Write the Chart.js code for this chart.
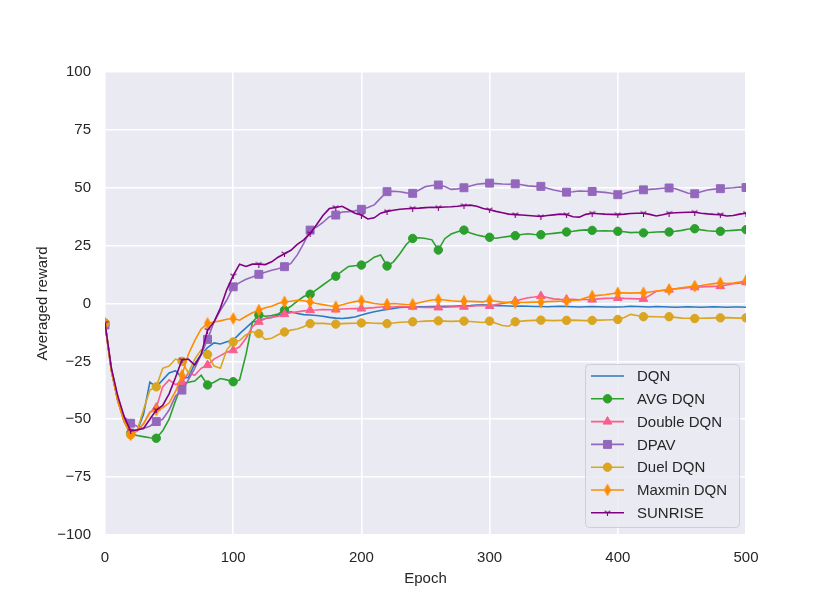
<!DOCTYPE html>
<html>
<head>
<meta charset="utf-8">
<script src="https://cdn.jsdelivr.net/npm/chart.js@4.4.1/dist/chart.umd.min.js"></script>
<style>
  html, body { margin: 0; padding: 0; background: #ffffff; }
  #wrap { width: 830px; height: 602px; }
</style>
</head>
<body>
<div id="wrap"><canvas id="grafico" width="830" height="602"></canvas></div>
<script>
  // epocas cada 5 (0..500)
  const epochs = Array.from({ length: 101 }, (_, i) => i * 5);
  const yTicks = [-100, -75, -50, -25, 0, 25, 50, 75, 100];
  const xTicks = [0, 100, 200, 300, 400, 500];

  const dqn = [
    -8.5, -29, -42, -50, -55, -55, -48, -34, -36, -33,
    -30, -29, -32, -32, -26, -22, -19, -17, -17.5, -16.5,
    -15.9, -13, -10.5, -8, -7.5, -6.5, -6, -5, -4.3, -3.6,
    -4.3, -4.8, -5, -5.2, -5.5, -6, -6.3, -6.5, -6.2, -5.8,
    -5, -4.2, -3.6, -3, -2.6, -2.1, -1.7, -1.6, -1.5, -1.4,
    -1.4, -1.3, -1.3, -1.2, -1.2, -1.1, -1, -0.9, -0.7, -0.6,
    -0.8, -0.9, -1, -1.1, -1.2, -1.1, -1.2, -1.3, -1.3, -1.4,
    -1.3, -1.2, -1.3, -1.4, -1.5, -1.4, -1.3, -1.4, -1.5, -1.5,
    -1.5, -1.4, -1.2, -1.3, -1.4, -1.5, -1.3, -1.4, -1.5, -1.6,
    -1.5, -1.4, -1.5, -1.6, -1.5, -1.4, -1.5, -1.6, -1.5, -1.5, -1.6
  ];
  const avgDqn = [
    -8.5, -29, -42, -51, -56, -57, -57.5, -58, -58.2, -55,
    -50, -42, -35, -34, -33.5, -31, -35.2, -34, -32.4, -33,
    -33.8, -33, -22, -8, -5, -5.5, -5.2, -4.5, -2.9, -1.2,
    1, 3, 4, 6, 8, 10, 11.8, 14, 16, 16.3,
    16.6, 18, 20, 21, 16.2, 18, 21.5, 25.5, 28.1, 28.4,
    28.1, 27.5, 23.1, 28, 30, 31, 31.7, 30.5, 29.6, 29,
    28.6, 28.2, 28.6, 29, 29.3, 29.8, 30.1, 29.8, 29.7, 30,
    30.3, 30.6, 30.9, 31.2, 31.6, 31.8, 31.6, 31.3, 31.4, 31.3,
    31.2, 31, 30.6, 30.8, 30.5, 30.7, 30.9, 31, 30.9, 31.2,
    31.6, 32.2, 32.3, 31.8, 31.4, 31.2, 31.2, 31.4, 31.6, 31.8, 31.9
  ];
  const doubleDqn = [
    -8.5, -29, -42, -51, -56, -55, -52, -47, -45, -36,
    -33, -35, -34, -30, -31, -28, -26.6, -24, -22.5, -21,
    -20.2, -18.7, -15, -10, -7.9, -6.5, -6, -5.5, -4.6, -4,
    -3.6, -3.2, -2.9, -2.8, -2.6, -2.7, -2.6, -2.4, -2.3, -2.2,
    -2.2, -2, -1.8, -1.5, -1.4, -1.5, -1.3, -1.4, -1.4, -1.6,
    -1.7, -1.6, -1.7, -1.6, -1.5, -1.4, -1.4, -1.2, -1, -0.8,
    -1.1, -0.5, 0, 0.5, 1, 1.8, 2.5, 2.8, 3.2, 2.6,
    2, 1.8, 1.7, 1.8, 1.6, 1.7, 1.7, 2, 2.2, 2.3,
    2.4, 2.2, 2.1, 2, 2, 3.5, 5.3, 5.6, 6, 6.3,
    6.6, 6.8, 7, 7.2, 7.3, 7.4, 7.5, 8, 8.5, 8.8, 9.2
  ];
  const dpav = [
    -9.3, -28, -41, -49, -51.7, -53, -54, -53, -51, -50,
    -46, -40, -37.4, -33, -28, -22, -15.5, -8, -3, 1.5,
    7.2, 9, 10.5, 11.5, 12.6, 13.5, 14.4, 15, 15.9, 17.3,
    21, 26, 31.7, 33, 35, 37.5, 38.2, 39.5, 39.7, 40,
    40.7, 41.5, 42.6, 45.5, 48.3, 48.5, 48.3, 47.8, 47.6, 49,
    50.5, 51, 51.2, 50.5, 49.3, 49.5, 50, 50.8, 51.5, 51.8,
    52, 51.8, 51.6, 51.5, 51.7, 51.3, 50.8, 50.6, 50.6, 49.8,
    49, 48.5, 48.1, 48.3, 48.6, 48.5, 48.4, 48.2, 48, 47.6,
    47, 47.5, 48.3, 48.8, 49.1, 49.3, 49.5, 49.8, 49.9, 49.6,
    48.6, 47.6, 47.4, 48.3, 49, 49.4, 49.6, 49.8, 50, 50.3, 50.1
  ];
  const duelDqn = [
    -8.5, -29, -42, -51, -56.7, -55, -46, -37.4, -36, -28,
    -27, -24, -25, -30, -24, -20, -22, -27, -28, -20,
    -16.6, -16, -13.5, -12.2, -13, -15.5, -15, -13.5, -12.3, -11.5,
    -11, -10, -8.7, -8.5, -8.6, -8.8, -8.9, -8.7, -8.6, -8.5,
    -8.4, -8.3, -8.5, -8.6, -8.7, -8.4, -8.1, -8, -7.9, -7.8,
    -7.6, -7.5, -7.5, -7.6, -7.7, -7.6, -7.6, -7.8, -8, -8.2,
    -7.6, -8.5, -9.5, -9.8, -7.9, -7.6, -7.4, -7.3, -7.2, -7.3,
    -7.4, -7.3, -7.3, -7.2, -7.3, -7.4, -7.3, -7.2, -7.1, -7,
    -6.9, -6, -4.7, -5.2, -5.7, -5.6, -5.7, -5.8, -5.7, -6,
    -6.3, -6.4, -6.5, -6.4, -6.3, -6.2, -6.2, -6.1, -6.2, -6.3, -6.2
  ];
  const maxminDqn = [
    -8.5, -29, -42, -51, -56.7, -55, -52, -47, -46, -45,
    -43, -38, -31, -22, -16, -11, -8.6, -8, -7.5, -6.8,
    -6.5, -7.2, -5.5, -4, -2.9, -1.8, -1.2, 0, 0.7, 1,
    1.4, 1.2, 0.7, 0, -0.5, -1, -1.4, -0.5, 0.2, 0.8,
    1.2, 0.6, 0, -0.3, -0.3, 0, -0.2, -0.4, -0.3, 0.3,
    1, 1.5, 1.7, 1.5, 1.2, 1, 1, 0.9, 0.8, 0.7,
    1.4, 1, 0.6, 0.4, 0.3, 0.4, 0.5, 0.6, 0.6, 0.8,
    0.9, 1, 1, 1.3, 1.5, 2.5, 3.2, 3.5, 3.8, 4.2,
    4.6, 4.6, 4.5, 4.6, 4.6, 5, 5.4, 5.7, 6, 6.4,
    6.8, 7.2, 7.5, 7.8, 8.2, 8.6, 8.9, 8.6, 8.8, 9.3, 9.9
  ];
  const sunrise = [
    -8.5, -28, -40, -49, -55, -54.6, -54, -50, -46, -44,
    -39, -32, -24.4, -24, -26.6, -22, -11.5, -8, -2, 6,
    12, 17, 16, 17, 17, 16.8, 18, 20, 21.5, 23,
    25.5, 27.5, 30.3, 34, 38, 41, 41.5, 42, 40.5, 39,
    38.2, 36.5, 37, 39, 39.8, 40.3, 40.7, 40.9, 41.1, 41.2,
    41.4, 41.6, 41.5, 41.7, 41.8, 42, 42.3, 42.5, 42, 41,
    40.5, 39.8, 39.2, 38.6, 38.4, 38.2, 38, 37.8, 37.6, 38,
    38.3, 38.6, 38.4, 37.5, 37.3, 38.5, 39, 38.8, 38.6, 38.5,
    38.4, 38.6, 38.9, 39, 39, 38.5, 37.8, 38.3, 39, 39.2,
    39.3, 39.4, 39.4, 39, 38.7, 38.5, 38.4, 37.8, 38, 38.6, 39
  ];

  const nombres = ['DQN', 'AVG DQN', 'Double DQN', 'DPAV', 'Duel DQN', 'Maxmin DQN', 'SUNRISE'];
  const series = [dqn, avgDqn, doubleDqn, dpav, duelDqn, maxminDqn, sunrise];
  const colores = ['#2a7bc0', '#2ca02c', '#fb5d8d', '#9467bd', '#daa520', '#ff8c00', '#800080'];

  // marcadores propios: diamante fino y "tri_down"
  function diamanteFino(color) {
    const c = document.createElement('canvas');
    c.width = 8; c.height = 14;
    const g = c.getContext('2d');
    g.fillStyle = color;
    g.beginPath();
    g.moveTo(4, 0.5); g.lineTo(7.5, 7); g.lineTo(4, 13.5); g.lineTo(0.5, 7);
    g.closePath(); g.fill();
    return c;
  }
  function triAbajo(color) {
    const c = document.createElement('canvas');
    c.width = 7; c.height = 7;
    const g = c.getContext('2d');
    g.strokeStyle = color; g.lineWidth = 1.1;
    g.beginPath();
    g.moveTo(3.5, 3.5); g.lineTo(3.5, 7);
    g.moveTo(3.5, 3.5); g.lineTo(0.6, 1.8);
    g.moveTo(3.5, 3.5); g.lineTo(6.4, 1.8);
    g.stroke();
    return c;
  }

  const estilos = [
    { style: 'circle', r: 0 },
    { style: 'circle', r: 4.2 },
    { style: 'triangle', r: 5 },
    { style: 'rect', r: 5.6 },
    { style: 'circle', r: 4.2 },
    { style: diamanteFino(colores[5]), r: 5 },
    { style: triAbajo(colores[6]), r: 4 }
  ];

  const datasets = series.map((vals, i) => ({
    label: nombres[i],
    data: epochs.map((e, j) => ({ x: e, y: vals[j] })),
    borderColor: colores[i],
    backgroundColor: colores[i],
    borderWidth: 1.6,
    pointStyle: estilos[i].style,
    pointRadius: (c) => (c.dataIndex % 4 === 0 ? estilos[i].r : 0),
    pointBorderWidth: 1,
    tension: 0,
    order: 7 - i
  }));

  const fondo = {
    id: 'fondo',
    beforeDraw(chart) {
      const { ctx, chartArea: a } = chart;
      ctx.save();
      ctx.fillStyle = '#eaeaf2';
      ctx.fillRect(a.left, a.top, a.right - a.left, a.bottom - a.top);
      ctx.restore();
    }
  };

  const leyenda = {
    id: 'leyenda',
    afterDraw(chart) {
      const { ctx, chartArea: a } = chart;
      const w = 154, h = 163;
      const x0 = a.right - 7 - w, y0 = a.bottom - 8 - h;
      ctx.save();
      ctx.fillStyle = 'rgba(234,234,242,0.85)';
      ctx.strokeStyle = '#cfcfd6';
      ctx.lineWidth = 1;
      ctx.beginPath();
      ctx.roundRect(x0 + 0.5, y0 + 0.5, w, h, 4);
      ctx.fill(); ctx.stroke();
      ctx.font = '15px "Liberation Sans", Arial, sans-serif';
      ctx.textBaseline = 'middle';
      nombres.forEach((n, i) => {
        const y = y0 + 12 + i * 22.8;
        ctx.strokeStyle = colores[i];
        ctx.fillStyle = colores[i];
        ctx.lineWidth = 1.6;
        ctx.beginPath();
        ctx.moveTo(x0 + 6, y); ctx.lineTo(x0 + 39, y);
        ctx.stroke();
        if (estilos[i].r > 0) {
          ctx.lineWidth = 1;
          Chart.helpers.drawPoint(ctx, {
            pointStyle: estilos[i].style, radius: estilos[i].r, rotation: 0, borderWidth: 1
          }, x0 + 22.5, y);
        }
        ctx.fillStyle = '#262626';
        ctx.fillText(n, x0 + 52, y + 1);
      });
      ctx.restore();
    }
  };

  const menos = (v) => (v < 0 ? '\u2212' + Math.abs(v) : String(v));
  const fuente = { family: '"Liberation Sans", Arial, sans-serif', size: 15 };

  let ctx = document.getElementById('grafico').getContext('2d');
  let grafico = new Chart(ctx, {
    type: 'line',
    data: { datasets: datasets },
    plugins: [fondo, leyenda],
    options: {
      responsive: false,
      animation: false,
      layout: { padding: { left: 0, right: 84, top: 72, bottom: 0 } },
      plugins: { legend: { display: false }, tooltip: { enabled: false } },
      scales: {
        x: {
          type: 'linear',
          min: 0, max: 500,
          afterBuildTicks: (s) => { s.ticks = xTicks.map(v => ({ value: v })); },
          afterFit: (s) => { s.height = 67; },
          grid: { color: '#ffffff', lineWidth: 1.6, drawTicks: false },
          border: { display: false },
          ticks: { color: '#262626', font: fuente, padding: 14, maxRotation: 0 },
          title: { display: true, text: 'Epoch', color: '#262626', font: fuente, padding: { top: 0, bottom: 14 } }
        },
        y: {
          min: -100, max: 100,
          afterBuildTicks: (s) => { s.ticks = yTicks.map(v => ({ value: v })); },
          afterFit: (s) => { s.width = 105; },
          grid: { color: '#ffffff', lineWidth: 1.6, drawTicks: false },
          border: { display: false },
          ticks: { color: '#262626', font: fuente, padding: 14, callback: menos },
          title: { display: true, text: 'Averaged reward', color: '#262626', font: fuente, padding: { top: 34, bottom: 0 } }
        }
      }
    }
  });
</script>
</body>
</html>
